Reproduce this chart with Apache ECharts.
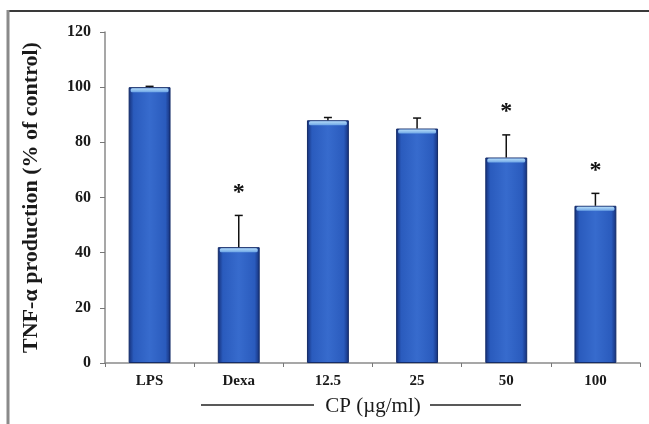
<!DOCTYPE html>
<html>
<head>
<meta charset="utf-8">
<script src="https://cdn.jsdelivr.net/npm/echarts@6/dist/echarts.min.js"></script>
<style>
html,body{margin:0;padding:0;background:#fff;}
#chart{width:649px;height:424px;}
</style>
</head>
<body>
<div id="chart"></div>
<script>
var categories = ['LPS', 'Dexa', '12.5', '25', '50', '100'];
var means = [100, 42, 88, 85, 74.5, 57];
var errors = [0.3, 11.5, 1, 3.8, 8.2, 4.5];
var significant = [false, true, false, false, true, true];
var yTicks = [0, 20, 40, 60, 80, 100, 120];

var serif = '"Liberation Serif", "DejaVu Serif", serif';
var chart = echarts.init(document.getElementById('chart'));

var barGradient = new echarts.graphic.LinearGradient(0, 0, 1, 0, [
  {offset: 0, color: '#152f78'},
  {offset: 0.12, color: '#2a5bbd'},
  {offset: 0.5, color: '#376bcd'},
  {offset: 0.88, color: '#2a5bbd'},
  {offset: 1, color: '#152f78'}
]);

var option = {
  animation: false,
  backgroundColor: '#fff',
  grid: {left: 105, right: 9, top: 32, bottom: 61},
  xAxis: {
    type: 'category',
    data: categories,
    axisLine: {lineStyle: {color: '#8a8a8a', width: 1.5}},
    axisTick: {show: true, length: 4, lineStyle: {color: '#777'}},
    axisLabel: {color: '#1a1a1a', fontFamily: serif, fontWeight: 'bold', fontSize: 15, margin: 11}
  },
  yAxis: {
    type: 'value',
    min: yTicks[0],
    max: yTicks[yTicks.length - 1],
    interval: 20,
    name: 'TNF-\u03b1 production (% of control)',
    nameLocation: 'middle',
    nameGap: 63,
    nameTextStyle: {color: '#1a1a1a', fontFamily: serif, fontWeight: 'bold', fontSize: 22},
    axisLine: {show: true, lineStyle: {color: '#8a8a8a', width: 1.5}},
    axisTick: {show: true, length: 5, lineStyle: {color: '#777'}},
    splitLine: {show: false},
    axisLabel: {color: '#1a1a1a', fontFamily: serif, fontWeight: 'bold', fontSize: 16, margin: 14}
  },
  series: [
    {
      type: 'bar',
      data: means,
      barWidth: '47%',
      itemStyle: {color: barGradient, borderColor: '#142c68', borderWidth: 1}
    },
    {
      type: 'custom',
      data: means.map(function (m, i) { return [i, m, errors[i], significant[i] ? 1 : 0]; }),
      z: 5,
      renderItem: function (params, api) {
        var idx = api.value(0), m = api.value(1), e = api.value(2), sig = api.value(3);
        var top = api.coord([idx, m]);
        var errTop = api.coord([idx, m + e]);
        var bw = api.size([1, 0])[0] * 0.47;
        var children = [
          {
            type: 'rect',
            shape: {x: top[0] - bw / 2 + 2, y: top[1] + 1, width: bw - 4, height: 4, r: 1.5},
            style: {fill: new echarts.graphic.LinearGradient(0, 0, 0, 1, [
              {offset: 0, color: '#b5dcf8'},
              {offset: 1, color: '#6ea6e6'}
            ])}
          },
          {
            type: 'line',
            shape: {x1: top[0], y1: top[1], x2: errTop[0], y2: errTop[1]},
            style: {stroke: '#111', lineWidth: 1.5}
          },
          {
            type: 'line',
            shape: {x1: errTop[0] - 4, y1: errTop[1], x2: errTop[0] + 4, y2: errTop[1]},
            style: {stroke: '#111', lineWidth: 1.5}
          }
        ];
        if (sig) {
          children.push({
            type: 'text',
            x: errTop[0],
            y: errTop[1] - 23,
            style: {text: '*', fill: '#111', font: 'bold 24px ' + serif, align: 'center', verticalAlign: 'middle'}
          });
        }
        return {type: 'group', children: children};
      }
    }
  ],
  graphic: [
    {type: 'line', shape: {x1: 7, y1: 11, x2: 649, y2: 11}, style: {stroke: '#3a3a3a', lineWidth: 2}},
    {type: 'line', shape: {x1: 8, y1: 10, x2: 8, y2: 424}, style: {stroke: '#8a8a8a', lineWidth: 3}},
    {type: 'line', shape: {x1: 201, y1: 405, x2: 314, y2: 405}, style: {stroke: '#222', lineWidth: 1.5}},
    {type: 'line', shape: {x1: 430, y1: 405, x2: 521, y2: 405}, style: {stroke: '#222', lineWidth: 1.5}},
    {type: 'text', x: 373, y: 406, style: {text: 'CP (\u00b5g/ml)', fill: '#1a1a1a', font: '21px ' + serif, align: 'center', verticalAlign: 'middle'}}
  ]
};
chart.setOption(option);
</script>
</body>
</html>
